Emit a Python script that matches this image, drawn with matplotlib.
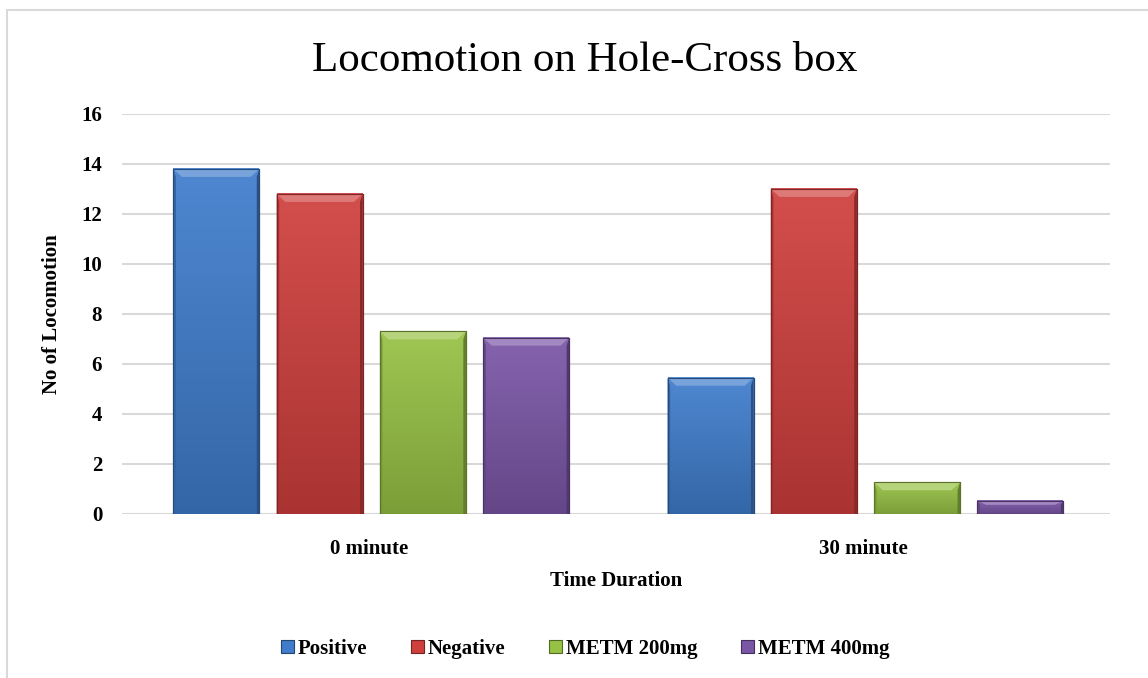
import matplotlib.pyplot as plt
import matplotlib.colors as mcolors
from matplotlib.patches import Polygon, Rectangle
import numpy as np

categories = ['0 minute', '30 minute']
groups = ['Positive', 'Negative', 'METM 200mg', 'METM 400mg']
positive = [13.8, 5.45]
negative = [12.8, 13.0]
metm200 = [7.3, 1.27]
metm400 = [7.05, 0.52]
yticks = [0, 2, 4, 6, 8, 10, 12, 14, 16]

series = [positive, negative, metm200, metm400]
colors = ['#3F7DCC', '#CF3F3D', '#97C144', '#7A56A6']

plt.rcParams['font.family'] = ['Liberation Serif', 'DejaVu Serif']

fig = plt.figure(figsize=(11.48, 6.78), dpi=100)
# light chart border
fig.patches.append(Rectangle((0.006, -0.01), 1.2, 0.995, transform=fig.transFigure,
                             fill=False, edgecolor='#D9D9D9', linewidth=1.5))
ax = fig.add_axes([0.106, 0.242, 0.861, 0.590])

x = np.arange(len(categories))
width = 0.174
step = 0.209


def shade(c, f):
    r = np.array(mcolors.to_rgb(c))
    if f > 0:
        return r + (1 - r) * f
    return r * (1 + f)


for i, (vals, c) in enumerate(zip(series, colors)):
    bars = ax.bar(x + (i - 1.5) * step + 0.005, vals, width, color=c, label=groups[i],
                  edgecolor=shade(c, -0.45), linewidth=0.8, zorder=3)
    for b in bars:
        x0, w, h = b.get_x(), b.get_width(), b.get_height()
        grad = np.linspace(0, 1, 64)[:, None]
        top = shade(c, 0.08)
        bot = shade(c, -0.18)
        img = top[None, None, :] * (1 - grad[:, :, None]) + bot[None, None, :] * grad[:, :, None]
        ax.imshow(img, extent=[x0, x0 + w, 0, h], aspect='auto', origin='upper',
                  zorder=3.5, interpolation='bilinear')
        # bevel: top light band and darker sides
        bev_y = min(0.32, h * 0.3)
        bev_x = w * 0.1
        ax.add_patch(Polygon([[x0, h], [x0 + w, h], [x0 + w - bev_x, h - bev_y], [x0 + bev_x, h - bev_y]],
                             closed=True, facecolor=shade(c, 0.3), edgecolor='none', zorder=4))
        ax.add_patch(Polygon([[x0, 0], [x0, h], [x0 + w * 0.03, h - bev_y], [x0 + w * 0.03, 0]],
                             closed=True, facecolor=shade(c, -0.2), edgecolor='none', zorder=4))
        ax.add_patch(Polygon([[x0 + w, 0], [x0 + w, h], [x0 + w * 0.97, h - bev_y], [x0 + w * 0.97, 0]],
                             closed=True, facecolor=shade(c, -0.35), edgecolor='none', zorder=4))
        ax.add_patch(Rectangle((x0, 0), w, h, fill=False, edgecolor=shade(c, -0.4),
                               linewidth=0.8, zorder=4.5))

ax.set_xlim(-0.5, 1.5)
ax.set_ylim(0, 16)
ax.set_yticks(yticks)
ax.set_xticks(x)
ax.set_xticklabels(categories)
ax.tick_params(axis='both', length=0, labelsize=15)
ax.tick_params(axis='y', pad=14)
ax.tick_params(axis='x', pad=18)
for lab in ax.get_xticklabels() + ax.get_yticklabels():
    lab.set_fontweight('bold')
ax.grid(axis='y', color='#D9D9D9', linewidth=1.5, zorder=0)
ax.set_axisbelow(True)
for s in ax.spines.values():
    s.set_visible(False)

fig.text(0.509, 0.91, 'Locomotion on Hole-Cross box', fontsize=31, ha='center', va='center')
ax.set_xlabel('Time Duration', fontsize=15, fontweight='bold', labelpad=9)
ax.set_ylabel('No of Locomotion', fontsize=15, fontweight='bold', labelpad=14)

leg = fig.legend(loc='center', bbox_to_anchor=(0.51, 0.043), ncol=4, frameon=False,
                 prop={'size': 15, 'weight': 'bold'}, handlelength=0.6, handleheight=0.6,
                 handletextpad=0.2, columnspacing=2.1)

fig.savefig('out.png', dpi=100)
